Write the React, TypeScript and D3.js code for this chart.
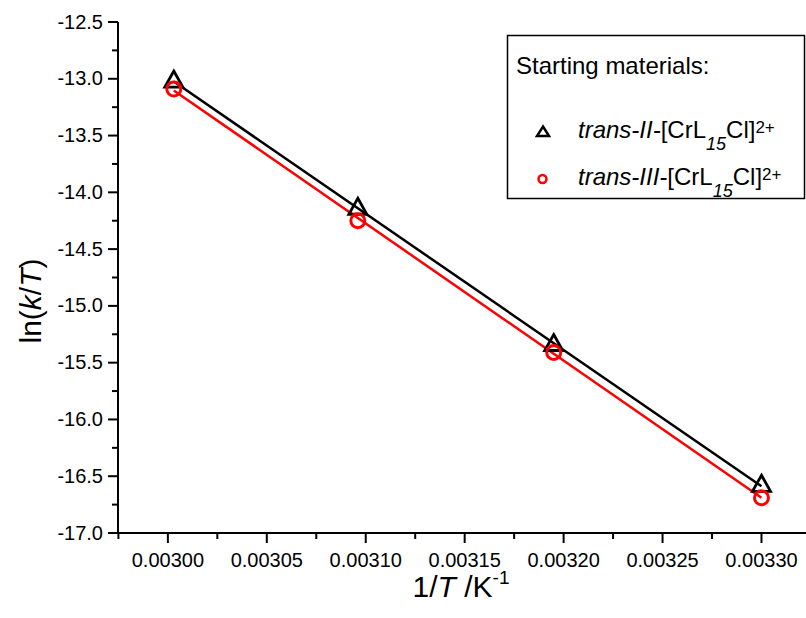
import React from "react";
import * as d3 from "d3";

// ---- data ----
const invT: number[] = [0.003003, 0.003096, 0.003195, 0.0033];
const lnKT_transII: number[] = [-13.02, -14.14, -15.34, -16.58];
const lnKT_transIII: number[] = [-13.09, -14.25, -15.41, -16.69];

const xMajorTicks: number[] = [0.003, 0.00305, 0.0031, 0.00315, 0.0032, 0.00325, 0.0033];
const xTickLabels: string[] = ["0.00300", "0.00305", "0.00310", "0.00315", "0.00320", "0.00325", "0.00330"];
const yMajorTicks: number[] = [-12.5, -13, -13.5, -14, -14.5, -15, -15.5, -16, -16.5, -17];
const yTickLabels: string[] = ["-12.5", "-13.0", "-13.5", "-14.0", "-14.5", "-15.0", "-15.5", "-16.0", "-16.5", "-17.0"];

const W = 806;
const H = 618;
const FONT = "'Liberation Sans', Arial, Helvetica, sans-serif";

function linFit(xs: number[], ys: number[]) {
  const mx = d3.mean(xs) as number;
  const my = d3.mean(ys) as number;
  let num = 0;
  let den = 0;
  xs.forEach((x, i) => {
    num += (x - mx) * (ys[i] - my);
    den += (x - mx) * (x - mx);
  });
  const b = num / den;
  const a = my - b * mx;
  return (x: number) => a + b * x;
}

export default function App() {
  const x = d3.scaleLinear().domain([0.002975, 0.0033225]).range([118.4, 806]);
  const y = d3.scaleLinear().domain([-12.5, -17]).range([22, 533]);
  const x0 = 118;
  const y0 = 533;

  const xMinor = d3.range(0.002975, 0.00333, 0.00005).map((v) => +v.toFixed(6)).filter((v) => x(v) <= W);
  const yMinor = d3.range(-12.75, -17, -0.5);

  const fitII = linFit(invT, lnKT_transII);
  const fitIII = linFit(invT, lnKT_transIII);
  const xExt = d3.extent(invT) as [number, number];
  const line = d3
    .line<[number, number]>()
    .x((d) => x(d[0]))
    .y((d) => y(d[1]));

  const tri = (cx: number, cy: number, hw: number, up: number, down: number) =>
    `M${cx},${cy - up}L${cx + hw},${cy + down}L${cx - hw},${cy + down}Z`;

  return (
    <svg
      width={W}
      height={H}
      style={{ position: "absolute", left: 0, top: 0, background: "#fff" }}
      fontFamily={FONT}
    >
      <rect x={0} y={0} width={W} height={H} fill="#fff" />

      {/* axes */}
      <line x1={x0} y1={y(-12.5)} x2={x0} y2={y0 + 1} stroke="#000" strokeWidth={2} />
      <line x1={x0 - 1} y1={y0} x2={W} y2={y0} stroke="#000" strokeWidth={2} />

      {/* y ticks */}
      {yMajorTicks.map((v, i) => (
        <g key={"ym" + i}>
          <line x1={x0 - 10} x2={x0} y1={y(v)} y2={y(v)} stroke="#000" strokeWidth={2} />
          <text x={103} y={y(v) + 6.5} fontSize={20} textAnchor="end" fill="#000">
            {yTickLabels[i]}
          </text>
        </g>
      ))}
      {yMinor.map((v, i) => (
        <line key={"yn" + i} x1={x0 - 6} x2={x0} y1={y(v)} y2={y(v)} stroke="#000" strokeWidth={2} />
      ))}

      {/* x ticks */}
      {xMajorTicks.map((v, i) => (
        <g key={"xm" + i}>
          <line x1={x(v)} x2={x(v)} y1={y0} y2={y0 + 10} stroke="#000" strokeWidth={2} />
          <text x={x(v)} y={567} fontSize={20} textAnchor="middle" fill="#000">
            {xTickLabels[i]}
          </text>
        </g>
      ))}
      {xMinor
        .filter((v) => !xMajorTicks.some((m) => Math.abs(m - v) < 1e-7))
        .map((v, i) => (
          <line key={"xn" + i} x1={x(v)} x2={x(v)} y1={y0} y2={y0 + 6} stroke="#000" strokeWidth={2} />
        ))}

      {/* axis titles */}
      <text x={461} y={597} fontSize={30} textAnchor="middle" fill="#000">
        1/<tspan fontStyle="italic">T</tspan> /K
        <tspan fontSize={19} dy={-13}>-1</tspan>
      </text>
      <text
        transform={`translate(41,301) rotate(-90)`}
        fontSize={30}
        textAnchor="middle"
        fill="#000"
      >
        ln(<tspan fontStyle="italic">k</tspan>/<tspan fontStyle="italic">T</tspan>)
      </text>

      {/* fit lines */}
      <path
        d={line([[xExt[0], fitII(xExt[0])], [xExt[1], fitII(xExt[1])]]) as string}
        stroke="#000"
        strokeWidth={2.5}
        fill="none"
      />
      <path
        d={line([[xExt[0], fitIII(xExt[0])], [xExt[1], fitIII(xExt[1])]]) as string}
        stroke="#ff0000"
        strokeWidth={2.5}
        fill="none"
      />

      {/* markers */}
      {invT.map((v, i) => (
        <path
          key={"t" + i}
          d={tri(x(v), y(lnKT_transII[i]), 9, 10, 6)}
          fill="none"
          stroke="#000"
          strokeWidth={2.8}
          strokeLinejoin="miter"
        />
      ))}
      {invT.map((v, i) => (
        <circle
          key={"c" + i}
          cx={x(v)}
          cy={y(lnKT_transIII[i])}
          r={7}
          fill="none"
          stroke="#ff0000"
          strokeWidth={3}
        />
      ))}

      {/* legend */}
      <rect x={507.5} y={35.5} width={297} height={163} fill="#fff" stroke="#000" strokeWidth={1.5} />
      <text x={516} y={74} fontSize={24} fill="#000">
        Starting materials:
      </text>
      <path d={tri(543, 132, 6, 5.5, 4)} fill="none" stroke="#000" strokeWidth={2.5} />
      <text x={578} y={138} fontSize={24} fill="#000">
        <tspan fontStyle="italic">trans-II-</tspan>[CrL
        <tspan fontSize={18} fontStyle="italic" dy={12}>15</tspan>
        <tspan dy={-12}>Cl]</tspan>
        <tspan fontSize={17} dy={-5}>2+</tspan>
      </text>
      <circle cx={542.5} cy={179} r={4} fill="none" stroke="#ff0000" strokeWidth={2.5} />
      <text x={578} y={185} fontSize={24} fill="#000">
        <tspan fontStyle="italic">trans-III-</tspan>[CrL
        <tspan fontSize={18} fontStyle="italic" dy={12}>15</tspan>
        <tspan dy={-12}>Cl]</tspan>
        <tspan fontSize={17} dy={-5}>2+</tspan>
      </text>
    </svg>
  );
}
